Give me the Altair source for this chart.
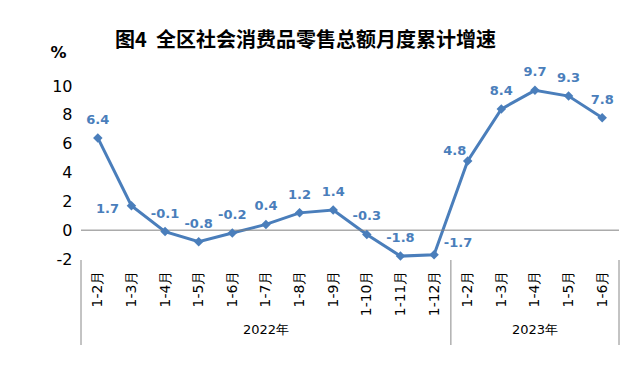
import altair as alt
import pandas as pd

months = ["1-2月", "1-3月", "1-4月", "1-5月", "1-6月", "1-7月", "1-8月", "1-9月",
          "1-10月", "1-11月", "1-12月", "1-2月", "1-3月", "1-4月", "1-5月", "1-6月"]
years = ["2022年"] * 11 + ["2023年"] * 5
values = [6.4, 1.7, -0.1, -0.8, -0.2, 0.4, 1.2, 1.4, -0.3, -1.8, -1.7,
          4.8, 8.4, 9.7, 9.3, 7.8]
y_ticks = [-2, 0, 2, 4, 6, 8, 10]

df = pd.DataFrame({"idx": list(range(len(months))), "month": months,
                   "year": years, "value": values})
df["label"] = df["value"].map(lambda v: f"{v:.1f}")

yr = df.groupby("year")["idx"].agg(["min", "max"]).reset_index()
yr["center"] = (yr["min"] + yr["max"]) / 2
bounds = pd.DataFrame({"b": sorted(set(list(yr["min"] - 0.5) + list(yr["max"] + 0.5)))})

W, H = 538, 173
BLUE = "#4a7ebb"
FONT = "DejaVu Sans"

label_expr = "[" + ",".join(f"'{m}'" for m in months) + "][datum.value]"

xscale = alt.Scale(domain=[-0.5, len(months) - 0.5], nice=False, zero=False)
yscale = alt.Scale(domain=[-2, 10], nice=False)

x_axis = alt.Axis(values=list(range(len(months))), labelExpr=label_expr,
                  labelAngle=-90, labelFontSize=14, labelColor="#000",
                  labelFont=FONT, labelPadding=11, domain=False,
                  ticks=False, grid=False, title=None, labelOverlap=False,
                  labelAlign="right", labelBaseline="middle")
y_axis = alt.Axis(values=y_ticks, labelExpr="datum.value + ''",
                  labelFontSize=16, labelColor="#000", labelOverlap=False,
                  labelFont=FONT, labelPadding=9, domain=False,
                  ticks=False, grid=False, title="%",
                  titleAngle=0, titleX=-23, titleY=-34,
                  titleAlign="center", titleBaseline="middle",
                  titleFontSize=16, titleFont=FONT,
                  titleFontWeight="bold", titleColor="#000")


def X(field):
    return alt.X(field, scale=xscale, axis=x_axis)


def Y(field):
    return alt.Y(field, scale=yscale, axis=y_axis)


base = alt.Chart(df)
line = base.mark_line(color=BLUE, strokeWidth=3).encode(x=X("idx:Q"), y=Y("value:Q"))

zero = alt.Chart(pd.DataFrame({"z": [0]})).mark_rule(color="#808080", strokeWidth=1).encode(
    y=Y("z:Q"))

pts = base.mark_point(shape="diamond", filled=True, color=BLUE, size=90, opacity=1).encode(
    x=X("idx:Q"), y=Y("value:Q"))

txt_kw = dict(color=BLUE, fontSize=13, fontWeight="bold", font=FONT)
special = [1, 10, 11]
lab_main = base.transform_filter(
    f"indexof({special}, datum.idx) < 0").mark_text(dy=-18, **txt_kw).encode(
    x=X("idx:Q"), y=Y("value:Q"), text="label:N")
lab_left = base.transform_filter("datum.idx == 1").mark_text(dx=-24, dy=3, **txt_kw).encode(
    x=X("idx:Q"), y=Y("value:Q"), text="label:N")
lab_right = base.transform_filter("datum.idx == 10").mark_text(dx=24, dy=-12, **txt_kw).encode(
    x=X("idx:Q"), y=Y("value:Q"), text="label:N")
lab_ul = base.transform_filter("datum.idx == 11").mark_text(dx=-13, dy=-10, **txt_kw).encode(
    x=X("idx:Q"), y=Y("value:Q"), text="label:N")

seps = alt.Chart(bounds).mark_rule(color="#888888", strokeWidth=1).encode(
    x=X("b:Q"), y=alt.value(H + 1), y2=alt.value(H + 86))

year_txt = alt.Chart(yr).mark_text(fontSize=13, font=FONT, color="#000",
                                   baseline="middle").encode(
    x=X("center:Q"), y=alt.value(H + 71), text="year:N")

chart = alt.layer(line, zero, pts, lab_main, lab_left, lab_right, lab_ul, seps, year_txt).properties(
    width=W, height=H,
    background="white",
    title=alt.TitleParams("图4\u00a0\u00a0全区社会消费品零售总额月度累计增速", anchor="start",
                          frame="group", dx=34, dy=43, offset=36, fontSize=20,
                          font="Noto Sans CJK SC", fontWeight="bold", color="#000"),
    autosize=alt.AutoSizeParams(type="none"),
    padding={"left": 81, "top": 86, "right": 17, "bottom": 116},
).configure_view(strokeWidth=0, stroke=None).configure_axis(labelOverlap=False)

chart.save("out.html", embed_options={"renderer": "svg", "actions": False})
